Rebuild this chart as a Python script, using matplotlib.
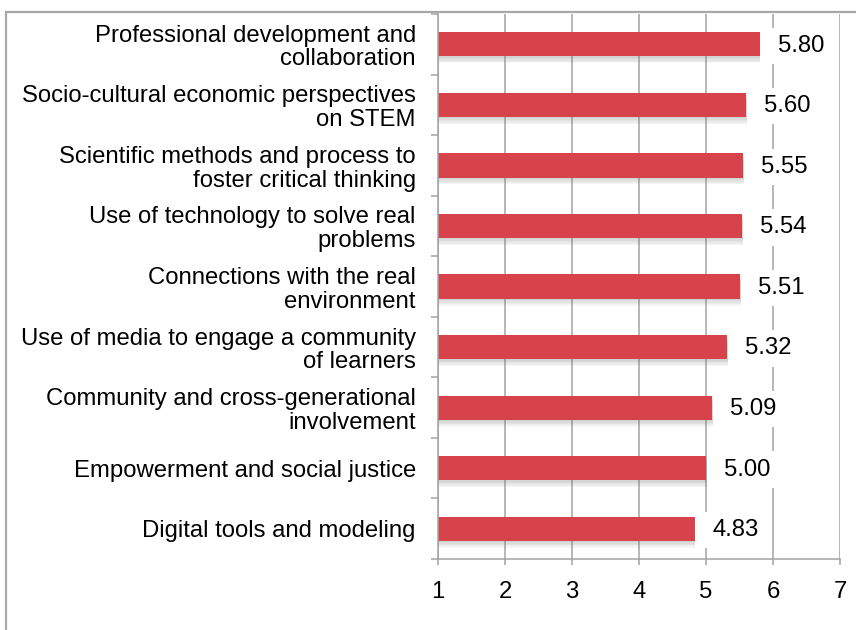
import matplotlib
matplotlib.use("Agg")
from matplotlib import pyplot as plt
from matplotlib.patches import Rectangle
import matplotlib.patheffects as pe
import numpy as np

# categorie (dall'alto verso il basso) e punteggi medi
categorie = [
    "Professional development and\ncollaboration",
    "Socio-cultural economic perspectives\non STEM",
    "Scientific methods and process to\nfoster critical thinking",
    "Use of technology to solve real\nproblems",
    "Connections with the real\nenvironment",
    "Use of media to engage a community\nof learners",
    "Community and cross-generational\ninvolvement",
    "Empowerment and social justice",
    "Digital tools and modeling",
]
punteggi = [5.80, 5.60, 5.55, 5.54, 5.51, 5.32, 5.09, 5.00, 4.83]
etichette = ["5.80", "5.60", "5.55", "5.54", "5.51", "5.32", "5.09", "5.00", "4.83"]
tick_x = [1, 2, 3, 4, 5, 6, 7]

plt.rcParams['font.family'] = ['Liberation Sans', 'DejaVu Sans']
grigio = '#A3A3A3'
rosso = '#D6434A'
fs = 17.2

fig = plt.figure(figsize=(8.56, 6.3), dpi=100)
ax = fig.add_axes([438/856, 1-559/630, (840-438)/856, (559-14)/630])

y = np.arange(len(categorie))[::-1]
barre = ax.barh(y, punteggi, height=0.4, color=rosso, zorder=3)
# ombra sfumata sotto le barre
ombra = [pe.SimplePatchShadow(offset=(0.5, -k), shadow_rgbFace='#777777', alpha=0.07) for k in range(1, 6)]
for b in barre:
    b.set_path_effects(ombra + [pe.Normal()])

for yy, v, txt in zip(y, punteggi, etichette):
    ax.annotate(txt, (v, yy), xytext=(13, -1), textcoords='offset points',
                ha='left', va='center', fontsize=fs, zorder=4,
                bbox=dict(boxstyle='square,pad=0.3', fc='white', ec='none'))

ax.set_xlim(1, 7)
ax.set_ylim(-0.5, len(categorie)-0.5)
ax.set_xticks(tick_x)
ax.set_xticklabels([str(t) for t in tick_x], fontsize=fs)
ax.set_yticks(y)
ax.set_yticklabels(categorie, fontsize=fs, linespacing=1.1)
ax.set_yticks(np.arange(-0.5, len(categorie)), minor=True)

ax.tick_params(axis='y', which='major', length=0, pad=16)
ax.tick_params(axis='y', which='minor', length=5, width=1.1, color=grigio)
ax.tick_params(axis='x', length=4.5, width=1.1, color=grigio, pad=11)

ax.grid(axis='x', color=grigio, lw=1.1, zorder=1)
for s in ['top', 'right']:
    ax.spines[s].set_visible(False)
for s in ['left', 'bottom']:
    ax.spines[s].set_color(grigio)
    ax.spines[s].set_linewidth(1.1)
    ax.spines[s].set_zorder(5)

# cornice esterna grigia
fig.patches.append(Rectangle((6/856, -0.1), 1.2, 1.1-12/630, transform=fig.transFigure,
                             fill=False, ec='#A8A8A8', lw=1.6))

fig.savefig("out.png", dpi=100)
